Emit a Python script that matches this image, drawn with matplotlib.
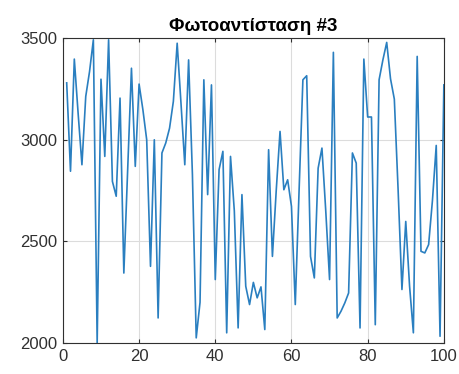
import numpy as np
import matplotlib.pyplot as plt

plt.rcParams['font.family'] = ['Liberation Sans', 'DejaVu Sans']

# readings of the light sensor, samples 1..100
sample = np.arange(1, 101)
reading = [
    3280, 2845, 3397, 3130, 2877, 3213, 3336, 3492, 2000, 3298,
    2918, 3492, 2795, 2722, 3205, 2344, 2850, 3352, 2869, 3274,
    3148, 3000, 2377, 3000, 2123, 2935, 2984, 3057, 3189, 3475,
    3180, 2877, 3393, 2830, 2025, 2200, 3295, 2730, 3270, 2312,
    2853, 2943, 2050, 2918, 2650, 2074, 2730, 2279, 2189, 2298,
    2222, 2276, 2066, 2951, 2426, 2750, 3041, 2754, 2803, 2672,
    2189, 2750, 3295, 3315, 2426, 2320, 2860, 2959, 2650, 2312,
    3430, 2123, 2156, 2197, 2246, 2935, 2885, 2074, 3397, 3112,
    3112, 2090, 3295, 3393, 3479, 3300, 3200, 2750, 2263, 2598,
    2280, 2050, 3410, 2451, 2443, 2484, 2700, 2972, 2033, 3270,
]
x_ticks = [0, 20, 40, 60, 80, 100]
y_ticks = [2000, 2500, 3000, 3500]

fig = plt.figure(figsize=(4.59, 3.74), dpi=100)
ax = fig.add_axes([0.137, 0.083, 0.830, 0.815])
ax.plot(sample, reading, color='#2a7fc0', lw=1.2)

ax.set_xlim(0, 100)
ax.set_ylim(2000, 3500)
ax.set_xticks(x_ticks)
ax.set_yticks(y_ticks)
ax.grid(True, color='#dcdcdc', lw=0.8)
ax.tick_params(direction='in', top=True, right=True, labelsize=12,
               length=3, colors='#303030', pad=4)
for s in ax.spines.values():
    s.set_color('#303030')
    s.set_linewidth(0.8)
ax.set_title('Φωτοαντίσταση #3', fontsize=13.5, fontweight='bold', pad=5)

fig.savefig('out.png', dpi=100)
